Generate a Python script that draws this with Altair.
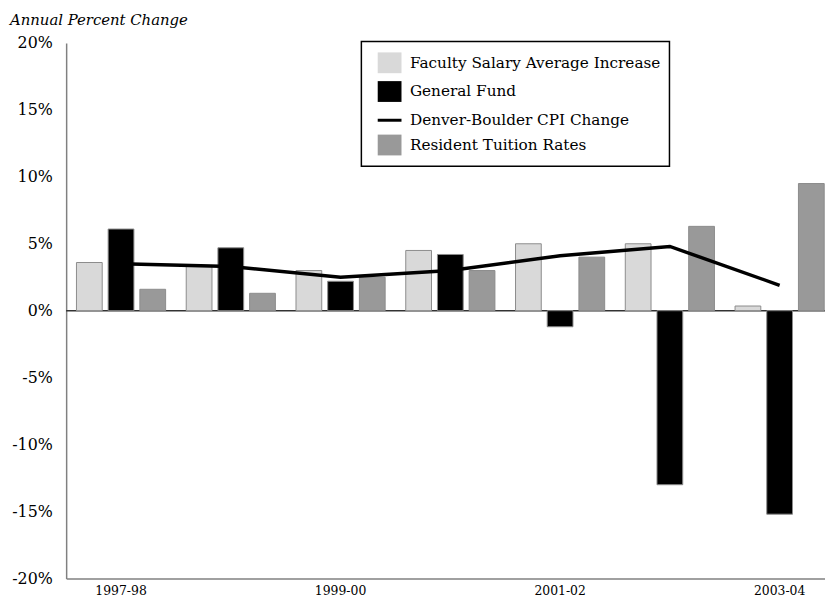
import altair as alt
import pandas as pd

# ---- data ----
categories = ["1997-98", "1998-99", "1999-00", "2000-01", "2001-02", "2002-03", "2003-04"]
faculty = [3.6, 3.3, 3.0, 4.5, 5.0, 5.0, 0.35]
general_fund = [6.1, 4.7, 2.2, 4.2, -1.2, -13.0, -15.2]
cpi = [3.5, 3.3, 2.5, 3.0, 4.1, 4.8, 1.9]
tuition = [1.6, 1.3, 2.5, 3.0, 4.0, 6.3, 9.5]
label_years = ["1997-98", "1999-00", "2001-02", "2003-04"]
y_ticks = [-20, -15, -10, -5, 0, 5, 10, 15, 20]
baseline = [0]

S_FAC = "Faculty Salary Average Increase"
S_GF = "General Fund"
S_CPI = "Denver-Boulder CPI Change"
S_TUI = "Resident Tuition Rates"
series_order = [S_FAC, S_GF, S_CPI, S_TUI]
bar_series = [S_FAC, S_GF, S_TUI]

rows = []
for i, c in enumerate(categories):
    rows.append({"year": c, "series": S_FAC, "value": faculty[i]})
    rows.append({"year": c, "series": S_GF, "value": general_fund[i]})
    rows.append({"year": c, "series": S_CPI, "value": cpi[i]})
    rows.append({"year": c, "series": S_TUI, "value": tuition[i]})
df = pd.DataFrame(rows)
bars_df = df[df.series != S_CPI]
cpi_df = df[df.series == S_CPI]
zero_df = pd.DataFrame({"v": baseline})

FONT = "DejaVu Serif"

x_scale = alt.Scale(domain=categories, range=[0, 775.6], paddingInner=0, paddingOuter=0)
y_scale = alt.Scale(domain=[-20, 20], nice=False, zero=False)
color_scale = alt.Scale(domain=series_order, range=["#d9d9d9", "#000000", "#000000", "#999999"])
rect_path = "M-1,-0.875H1V0.875H-1Z"
thin_path = "M-1,-0.125H1V0.125H-1Z"
shape_scale = alt.Scale(domain=series_order, range=[rect_path, rect_path, thin_path, rect_path])

legend_props = dict(
    title=None, orient="none", legendX=298, legendY=-1.5, padding=9, symbolOffset=7,
    symbolSize=576, labelFont=FONT, labelFontSize=15.4, labelColor="#000", labelOffset=8,
    labelLimit=0, rowPadding=4, strokeColor="#000000", fillColor="#ffffff",
    symbolStrokeColor="#999999", symbolStrokeWidth=1, symbolOpacity=1,
)

x_enc = alt.X(
    "year:N", scale=x_scale,
    axis=alt.Axis(values=label_years, title=None, ticks=False, labelAngle=0, grid=False,
                  domainColor="#808080", domainWidth=1.5, labelFont=FONT, labelFontSize=12.5,
                  labelColor="#000", labelPadding=6),
)
y_enc = alt.Y(
    "value:Q", scale=y_scale,
    axis=alt.Axis(values=y_ticks, labelExpr="datum.value + '%'", title=None, ticks=False, grid=False,
                  domainColor="#808080", domainWidth=1.5, labelFont=FONT, labelFontSize=16,
                  labelColor="#000", labelPadding=14),
)

bars = alt.Chart(bars_df).mark_bar(stroke="#8c8c8c", strokeWidth=1).encode(
    x=x_enc,
    xOffset=alt.XOffset("series:N", scale=alt.Scale(domain=bar_series, paddingInner=0.1875, paddingOuter=0.325)),
    y=y_enc,
    color=alt.Color("series:N", scale=color_scale, legend=alt.Legend(**legend_props)),
)

zero = alt.Chart(zero_df).mark_rule(color="#333333", strokeWidth=1.5).encode(y=alt.Y("v:Q", scale=y_scale))

line = alt.Chart(cpi_df).mark_line(color="#000000", strokeWidth=3.5).encode(
    x=alt.X("year:N", scale=x_scale),
    y=alt.Y("value:Q", scale=y_scale),
)

pts = alt.Chart(df).mark_point(filled=True, size=0).encode(
    x=alt.X("year:N", scale=x_scale),
    y=alt.Y("value:Q", scale=y_scale),
    color=alt.Color("series:N", scale=color_scale, legend=alt.Legend(**legend_props)),
    shape=alt.Shape("series:N", scale=shape_scale, legend=alt.Legend(**legend_props)),
)

chart = alt.layer(zero, bars, line, pts).properties(
    width=766, height=540.5,
    autosize=alt.AutoSizeParams(type="none"),
    padding={"left": 58.7, "top": 32.5, "right": 0, "bottom": 22},
    title=alt.TitleParams("Annual Percent Change", anchor="start", frame="group", dx=-56.7, offset=7,
                          font=FONT, fontSize=15, fontStyle="italic", fontWeight="normal", color="#000"),
).configure_view(stroke=None).configure_legend(
    strokeWidth=1.5, labelFont=FONT, labelFontSize=15.4, labelLimit=0, labelColor="#000",
    symbolOffset=7, padding=9, rowPadding=4, labelOffset=8,
)

chart.save("out.html", embed_options={"renderer": "svg", "actions": False})
